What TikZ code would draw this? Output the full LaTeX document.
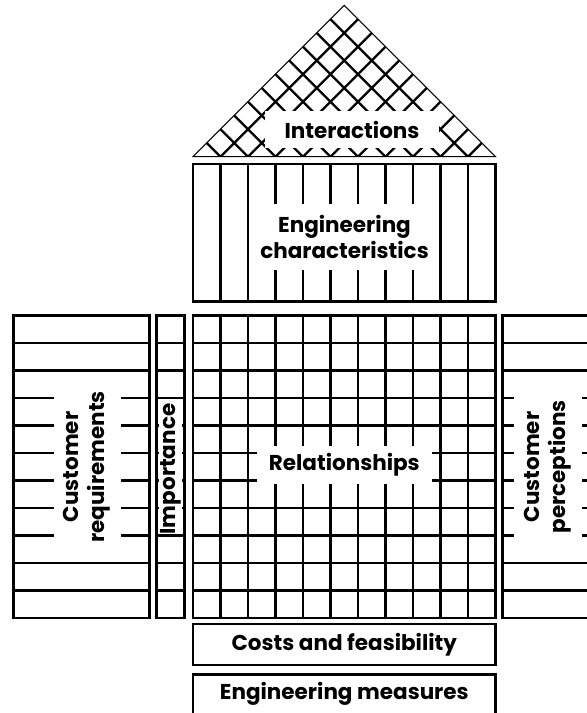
\documentclass[tikz,border=0pt]{standalone}
\usepackage{fontspec}
\setmainfont{Poppins}
\begin{document}
\begin{tikzpicture}[x=1pt,y=-1pt,
  rule/.style={line width=2.8pt},
  hair/.style={line width=1pt},
  hatch/.style={line width=2.4pt},
  lbl/.style={fill=white,inner sep=0pt,align=center,
    font=\bfseries\fontsize{21.5}{26}\selectfont}]
\useasboundingbox (0,0) rectangle (587,713);
\clip (0,0) rectangle (587,713);
\def\cw{27.5}

% roof: diagonal cross-hatching inside the triangle
\begin{scope}
  \clip (193,156.7) -- (344.25,5.45) -- (495.5,156.7) -- cycle;
  \foreach \k in {1,...,10} {
    \draw[hatch] (193+\k*\cw,156.7) -- ++(-200,-200);
    \draw[hatch] (193+\k*\cw,156.7) -- ++(200,-200);
  }
\end{scope}
\draw[hair] (193,156.7) -- (344.25,5.45) -- (495.5,156.7) -- cycle;

% engineering characteristics: columns
\foreach \k in {1,...,10}
  \draw[rule] (193+\k*\cw,164) -- (193+\k*\cw,301.5);
\draw[rule] (193,164) rectangle (495.5,301.5);

% relationship matrix
\foreach \k in {1,...,10} {
  \draw[rule] (193+\k*\cw,315.5) -- (193+\k*\cw,618);
  \draw[rule] (193,315.5+\k*\cw) -- (495.5,315.5+\k*\cw);
}
\draw[rule] (193,315.5) rectangle (495.5,618);

% customer requirements rows
\foreach \k in {1,...,10}
  \draw[rule] (13.3,315.5+\k*\cw) -- (149.3,315.5+\k*\cw);
\draw[rule] (13.3,315.5) rectangle (149.3,618);

% importance column
\foreach \k in {1,...,10}
  \draw[rule] (156.7,315.5+\k*\cw) -- (184.3,315.5+\k*\cw);
\draw[rule] (156.7,315.5) rectangle (184.3,618);

% customer perceptions rows
\foreach \k in {1,...,10}
  \draw[rule] (502.7,315.5+\k*\cw) -- (650,315.5+\k*\cw);
\draw[rule] (502.7,315.5) rectangle (650,618);

% bottom boxes
\draw[rule] (193,624) rectangle (495.5,665);
\draw[rule] (193,674.3) rectangle (495.5,740);

% labels
\node[lbl,minimum width=174pt,minimum height=37pt] (interactions) at (352,129.5) {Interactions};
\node[lbl,minimum width=189pt,minimum height=66pt] (engchar) at (344.5,237) {Engineering\\characteristics};
\node[lbl,minimum width=175pt,minimum height=38pt] (relationships) at (344.3,465) {Relationships};
\node[lbl,rotate=90,minimum width=166pt,minimum height=67pt] (custreq) at (87,467) {Customer\\requirements};
\node[lbl,rotate=90,minimum height=23pt] (importance) at (170.5,469) {Importance};
\node[lbl,rotate=90,minimum width=166pt,minimum height=68pt] (custperc) at (548,467) {Customer\\perceptions};
\node[lbl,fill=none] (costs) at (344.3,645) {Costs and feasibility};
\node[lbl,fill=none] (measures) at (344.3,694) {Engineering measures};
\end{tikzpicture}
\end{document}
